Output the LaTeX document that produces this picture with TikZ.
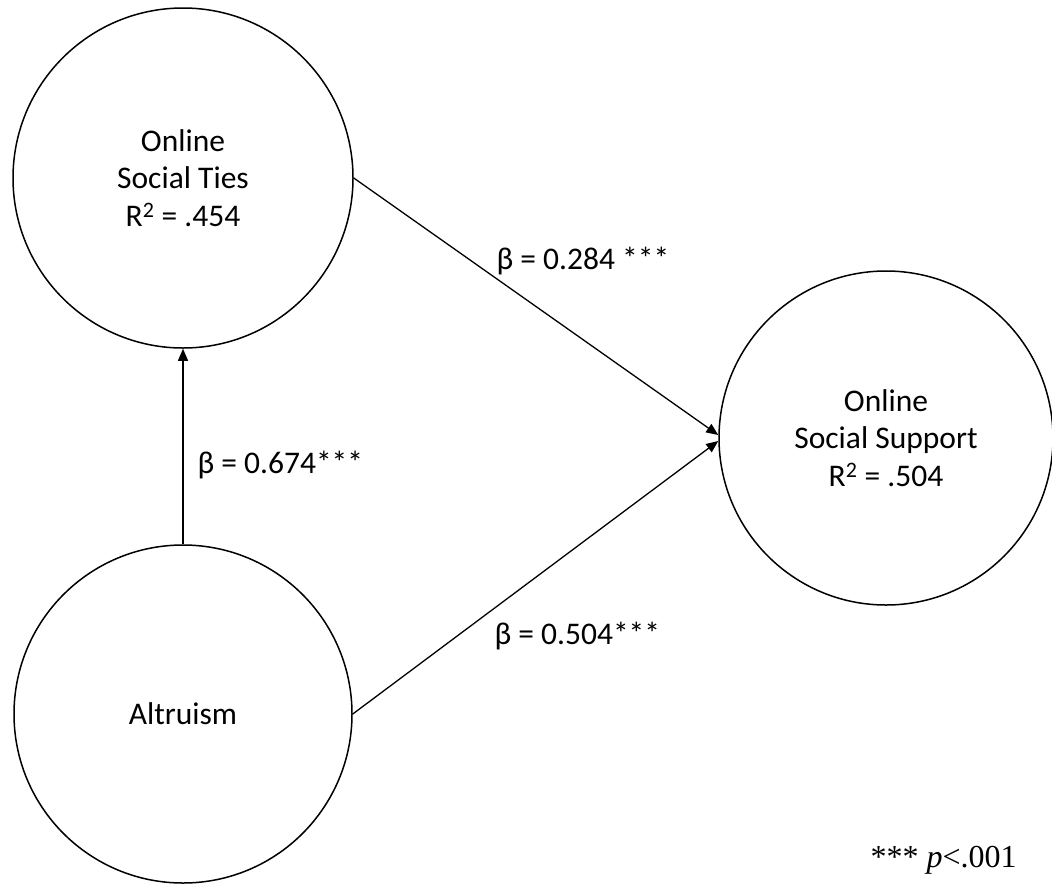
\documentclass[tikz,border=0pt]{standalone}
\usepackage{fontspec}
\setmainfont{Carlito}
\newfontfamily\timesfont{Liberation Serif}
\usetikzlibrary{arrows.meta, positioning}

\begin{document}
\begin{tikzpicture}[
    x=1pt, y=-1pt,
    every node/.style={font=\fontsize{31.5}{37.5}\selectfont},
    construct/.style={circle, draw=black, line width=1.5pt, inner sep=0pt, align=center},
    arrow/.style={-{Triangle[length=12pt, width=10pt]}, line width=1.3pt, draw=black}
  ]
    \useasboundingbox (0,0) rectangle (1052,887);
    \node[construct, minimum size=340pt] (ties) at (183,178) {Online\\Social Ties\\R\textsuperscript{2} = .454};
    \node[construct, minimum size=338pt] (alt) at (183,714) {Altruism};
    \node[construct, minimum size=334pt] (supp) at (886,438) {Online\\Social Support\\R\textsuperscript{2} = .504};
    \coordinate (inA) at ([yshift=3pt]supp.west);
    \coordinate (inB) at ([yshift=-3pt]supp.west);
    \draw[arrow] (alt.north) -- (ties.south);
    \draw[arrow] (ties.east) -- (inA);
    \draw[arrow] (alt.east) -- (inB);
    \node[anchor=west] (b1) at (493,261) {β = 0.284 ***};
    \node[anchor=west] (b2) at (194,465) {β = 0.674***};
    \node[anchor=west] (b3) at (491,636) {β = 0.504***};
    \node[anchor=west, font=\timesfont\fontsize{32}{38}\selectfont] (note) at (867,860) {*** \textit{p}<.001};
  \end{tikzpicture}
\end{document}
